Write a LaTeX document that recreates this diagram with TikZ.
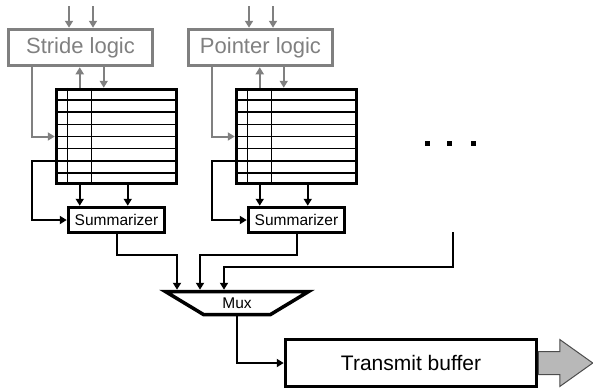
\documentclass[tikz,border=0pt]{standalone}
\usepackage{fontspec}
\setmainfont{Liberation Sans}
\usetikzlibrary{arrows.meta,shapes.geometric,calc}
\definecolor{logicgray}{gray}{0.5}
\definecolor{buffergray}{gray}{0.72}

\begin{document}
\begin{tikzpicture}[x=1pt,y=-1pt,
    >={Triangle[length=7pt,width=8pt]},
    logic box/.style={draw=logicgray,
                      text=logicgray,
                      line width=3.5pt,
                      minimum width=144pt,
                      minimum height=36pt,
                      inner sep=0pt,
                      font=\fontsize{22}{22}\selectfont},
    table box/.style={draw,
                      line width=3.5pt,
                      minimum width=120pt,
                      minimum height=94pt,
                      inner sep=0pt},
    sum box/.style={draw,
                    line width=3.5pt,
                    minimum width=96pt,
                    minimum height=25pt,
                    inner sep=0pt,
                    font=\fontsize{15.5}{15.5}\selectfont},
    gray wire/.style={draw=logicgray,line width=2pt},
    wire/.style={draw,line width=2pt}]
  \useasboundingbox (0,0) rectangle (593,389);

  % two identical columns
  \foreach \i/\name in {0/Stride logic,1/Pointer logic}{%
    \pgfmathsetmacro{\dx}{180*\i}
    \node[logic box] (l\i) at (80.5+\dx,47.5) {\name};
    \node[table box] (t\i) at (116.5+\dx,136.5) {};
    \node[sum box] (s\i) at (116.5+\dx,220) {Summarizer};

    % inputs of the logic
    \coordinate (ina\i) at (69+\dx,6);
    \coordinate (inb\i) at (93+\dx,6);
    \draw[gray wire,->] (ina\i) -- (ina\i |- l\i.north);
    \draw[gray wire,->] (inb\i) -- (inb\i |- l\i.north);

    % rows and columns of the table
    \foreach \k in {1,...,7}
      \draw[line width=1.3pt] ($(t\i.north west)!\k/8!(t\i.south west)$)
                           -- ($(t\i.north east)!\k/8!(t\i.south east)$);
    \foreach \c in {13,37}
      \draw[line width=1.3pt] ($(t\i.north west)+(\c,0)$)
                           -- ($(t\i.south west)+(\c,0)$);

    % logic <-> table
    \coordinate (up\i) at ($(t\i.north west)+(25,0)$);
    \coordinate (dn\i) at ($(t\i.north west)+(49,0)$);
    \draw[gray wire,->] (up\i) -- (up\i |- l\i.south);
    \draw[gray wire,->] (dn\i |- l\i.south) -- (dn\i);
    \draw[gray wire,->] ($(l\i.south west)+(25,0)$) |- (t\i.west);

    % table -> summarizer
    \draw[wire,->] ($(t\i.west)+(0,24.5)$) -- ++(-23,0) |- (s\i.west);
    \coordinate (oa\i) at ($(t\i.south west)+(25,0)$);
    \coordinate (ob\i) at ($(t\i.south west)+(73,0)$);
    \draw[wire,->] (oa\i) -- (oa\i |- s\i.north);
    \draw[wire,->] (ob\i) -- (ob\i |- s\i.north);
  }

  % more columns
  \foreach \x in {427,449,473}
    \fill (\x-2.5,140.5) rectangle ++(5,5);

  \node[draw,
        line width=3.5pt,
        trapezium,
        trapezium stretches=true,
        shape border rotate=180,
        trapezium left angle=33,
        trapezium right angle=33,
        minimum width=144pt,
        minimum height=23pt,
        inner sep=0pt,
        font=\fontsize{15.5}{15.5}\selectfont] (mux) at (237,303) {Mux};

  \node[draw,
        line width=3.5pt,
        minimum width=251pt,
        minimum height=47pt,
        inner sep=0pt,
        font=\fontsize{21}{21}\selectfont] (tb) at (411,363) {Transmit buffer};

  % summarizers -> mux
  \foreach \i/\m in {0/-60,1/-37}
    \draw[wire,->] (s\i.south) |- ($(mux.north)+(\m,-35)$)
                -- ($(mux.north)+(\m,0)$);
  \coordinate (more) at (453,232);
  \draw[wire,->] (more) |- ($(mux.north)+(-13,-23)$)
              -- ($(mux.north)+(-13,0)$);

  % mux -> buffer -> out
  \draw[wire,->] (mux.south) |- (tb.west);
  \draw[fill=buffergray,draw=black!70,line width=1pt]
    ($(tb.east)+(0,-11.5)$) -- ++(21.5,0) -- ++(0,-12) -- ++(33,23.5)
    -- ++(-33,23.5) -- ++(0,-12) -- ++(-21.5,0) -- cycle;
\end{tikzpicture}
\end{document}
